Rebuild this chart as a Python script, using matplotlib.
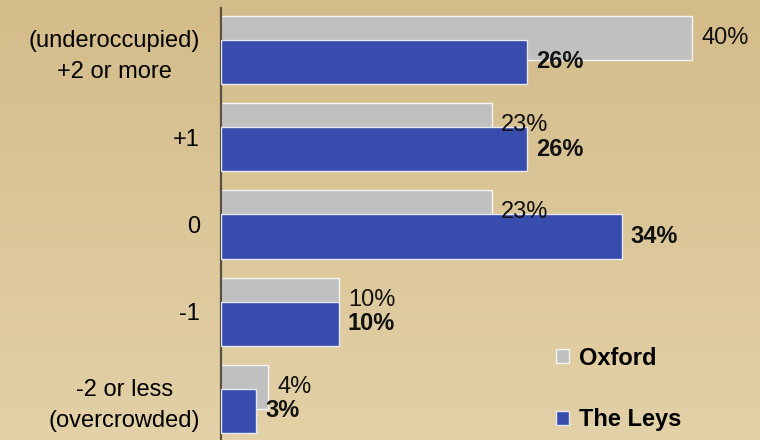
import numpy as np
import matplotlib
matplotlib.use("Agg")
import matplotlib.pyplot as plt

plt.rcParams["font.family"] = ["Liberation Sans", "DejaVu Sans"]

categories = ["(underoccupied)\n+2 or more", "+1", "0", "-1", "-2 or less\n(overcrowded)"]
oxford = [40, 23, 23, 10, 4]
leys = [26, 26, 34, 10, 3]
series_names = ["Oxford", "The Leys"]

grey = "#c0c0c0"
blue = "#384cad"

W, H = 760, 440
fig = plt.figure(figsize=(W / 100, H / 100), dpi=100)

# background gradient (darker tan at the top)
bg = fig.add_axes([0, 0, 1, 1], zorder=-10)
top = np.array([212, 188, 138]) / 255
bot = np.array([227, 209, 167]) / 255
t = np.linspace(0, 1, 256)[:, None, None]
grad = top * (1 - t) + bot * t
grad = np.repeat(grad, 2, axis=1)
bg.imshow(grad, aspect="auto", extent=[0, 1, 0, 1])
bg.set_axis_off()

ax_left = 221 / W
ax_top = 8
ax = fig.add_axes([ax_left, 0, 1 - ax_left, (H - ax_top) / H])
ax.set_facecolor("none")

y = np.arange(len(categories))
off = 0.1376
h = 0.505
ax.barh(y - off, oxford, height=h, color=grey, edgecolor="#f4f4f4",
        linewidth=1.0, zorder=2, label=series_names[0])
ax.barh(y + off, leys, height=h, color=blue, edgecolor="#e8e8f4",
        linewidth=1.0, zorder=3, label=series_names[1])

fs = 17
for yi, v in zip(y, oxford):
    ax.annotate(f"{v}%", (v, yi - off), xytext=(6.5, 0), textcoords="offset points",
                va="center", ha="left", fontsize=fs, color="#111111", zorder=4)
for yi, v in zip(y, leys):
    ax.annotate(f"{v}%", (v, yi + off), xytext=(6.5, 0), textcoords="offset points",
                va="center", ha="left", fontsize=fs, fontweight="bold",
                color="#111111", zorder=4)

ax.set_xlim(0, (W - 221) / 11.78)
ax.set_ylim(4.47, -0.481)
ax.set_yticks(y)
ax.set_yticklabels(categories, fontsize=fs, linespacing=1.5,
                   multialignment="center")
ax.tick_params(axis="y", length=0, pad=15)
ax.set_xticks([])
for s in ["top", "right", "bottom"]:
    ax.spines[s].set_visible(False)
ax.spines["left"].set_color("#5a5040")
ax.spines["left"].set_linewidth(1.6)

leg = ax.legend(loc="center left", bbox_to_anchor=(556 / W, (H - 389) / H),
                bbox_transform=fig.transFigure, frameon=False,
                borderaxespad=0, borderpad=0, handlelength=0.56,
                handleheight=0.55, handletextpad=0.4, labelspacing=1.65,
                prop={"size": fs, "weight": "bold"})

fig.savefig("out.png", dpi=100)
